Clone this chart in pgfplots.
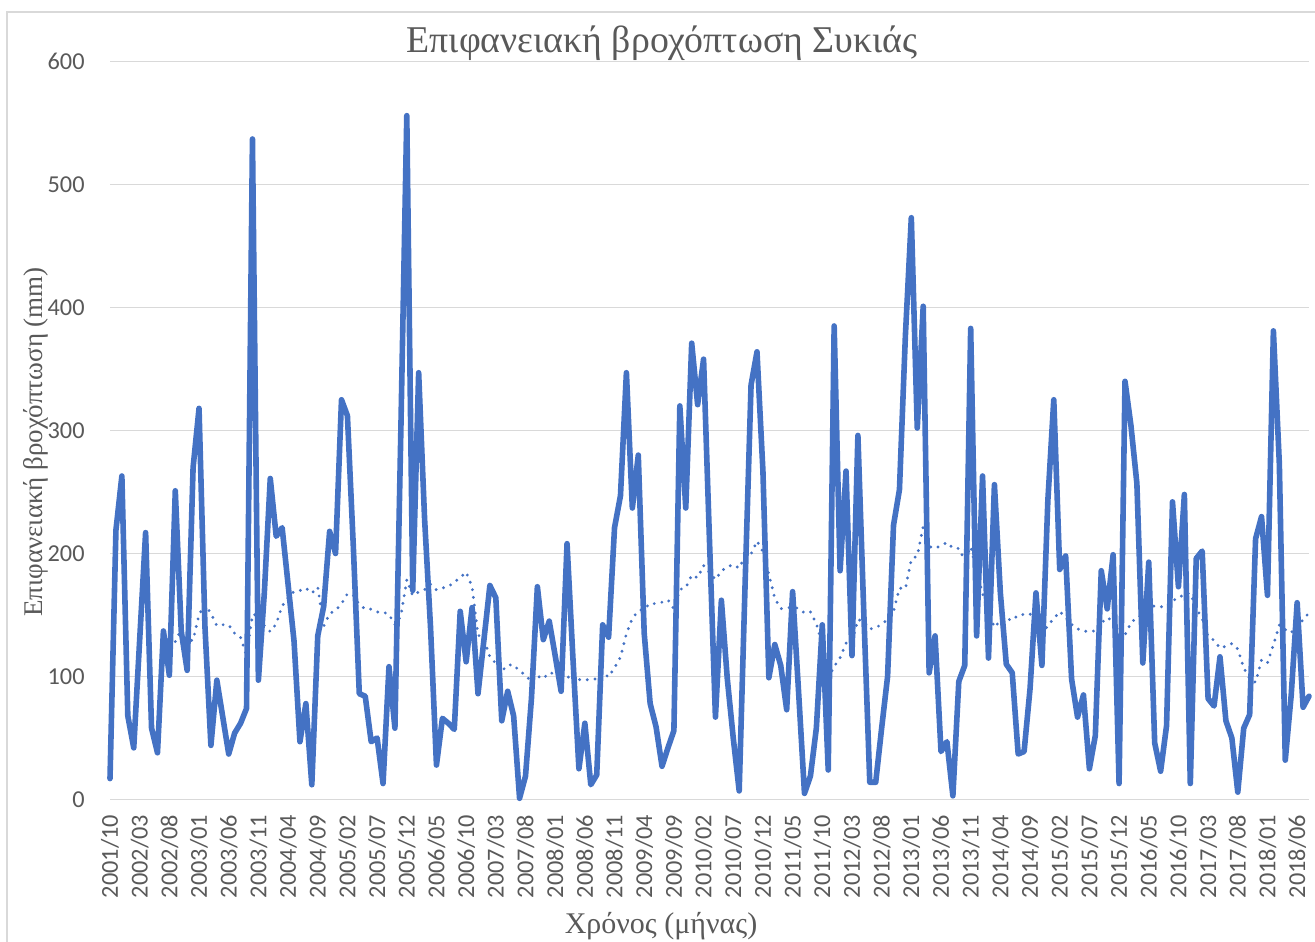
\documentclass[border=0pt]{standalone}
\usepackage{pgfplots}
\usepackage{pgfplotstable}
\pgfplotsset{compat=1.18}
\usepackage{fontspec}
\setmainfont{Liberation Serif}
\newfontfamily\carlito{Carlito}
\definecolor{linec}{HTML}{4472C4}
\definecolor{gridc}{HTML}{D9D9D9}
\definecolor{textc}{HTML}{595959}

\pgfplotstableread{
i v
0 17
1 219
2 263
3 68
4 42
5 130
6 217
7 58
8 38
9 137
10 101
11 251
12 137
13 105
14 270
15 318
16 140
17 44
18 97
19 67
20 37
21 54
22 62
23 74
24 537
25 97
26 168
27 261
28 214
29 221
30 175
31 129
32 47
33 78
34 12
35 133
36 157
37 218
38 200
39 325
40 312
41 205
42 86
43 84
44 47
45 50
46 13
47 108
48 58
49 300
50 556
51 170
52 347
53 228
54 140
55 28
56 66
57 62
58 57
59 153
60 112
61 156
62 86
63 130
64 174
65 164
66 64
67 88
68 68
69 1
70 19
71 82
72 173
73 130
74 145
75 117
76 88
77 208
78 114
79 25
80 62
81 12
82 20
83 142
84 132
85 221
86 247
87 347
88 237
89 280
90 135
91 78
92 59
93 27
94 42
95 56
96 320
97 237
98 371
99 321
100 358
101 210
102 67
103 162
104 98
105 50
106 7
107 176
108 337
109 364
110 267
111 99
112 126
113 109
114 73
115 169
116 88
117 5
118 19
119 58
120 142
121 24
122 385
123 186
124 267
125 117
126 296
127 151
128 14
129 14
130 58
131 100
132 223
133 252
134 377
135 473
136 302
137 401
138 103
139 133
140 39
141 47
142 3
143 96
144 109
145 383
146 133
147 263
148 115
149 256
150 168
151 110
152 103
153 37
154 39
155 90
156 168
157 109
158 243
159 325
160 187
161 198
162 98
163 67
164 85
165 25
166 52
167 186
168 155
169 199
170 13
171 340
172 304
173 257
174 111
175 193
176 46
177 23
178 60
179 242
180 173
181 248
182 13
183 196
184 202
185 82
186 76
187 116
188 64
189 50
190 6
191 58
192 69
193 212
194 230
195 166
196 381
197 273
198 32
199 85
200 160
201 75
202 84
}\rain

\pgfplotstableread{
i m
11 128.4
12 138.4
13 128.9
14 129.5
15 150.3
16 158.5
17 151.3
18 141.3
19 142.1
20 142.0
21 135.1
22 131.8
23 117.1
24 150.4
25 149.8
26 141.3
27 136.5
28 142.7
29 157.4
30 163.9
31 169.1
32 169.9
33 171.9
34 167.8
35 172.7
36 141.0
37 151.1
38 153.8
39 159.1
40 167.3
41 165.9
42 158.5
43 154.8
44 154.8
45 152.4
46 152.5
47 150.4
48 142.2
49 149.0
50 178.7
51 165.8
52 168.7
53 170.6
54 175.1
55 170.4
56 172.0
57 173.0
58 176.7
59 180.4
60 184.9
61 172.9
62 133.8
63 130.4
64 116.0
65 110.7
66 104.3
67 109.3
68 109.5
69 104.4
70 101.3
71 95.3
72 100.4
73 98.3
74 103.2
75 102.1
76 94.9
77 98.6
78 102.8
79 97.5
80 97.0
81 97.9
82 98.0
83 103.0
84 99.6
85 107.2
86 115.7
87 134.8
88 147.3
89 153.3
90 155.0
91 159.4
92 159.2
93 160.4
94 162.3
95 155.1
96 170.8
97 172.1
98 182.4
99 180.3
100 190.3
101 184.5
102 178.8
103 185.8
104 189.1
105 191.0
106 188.1
107 198.1
108 199.5
109 210.1
110 201.4
111 182.9
112 163.6
113 155.2
114 155.7
115 156.3
116 155.4
117 151.7
118 152.7
119 142.8
120 126.6
121 98.3
122 108.1
123 115.3
124 127.1
125 127.8
126 146.3
127 144.8
128 138.7
129 139.4
130 142.7
131 146.2
132 152.9
133 171.9
134 171.3
135 195.2
136 198.1
137 221.8
138 205.7
139 204.2
140 206.3
141 209.0
142 204.4
143 204.1
144 194.6
145 205.5
146 185.2
147 167.7
148 152.1
149 140.0
150 145.4
151 143.5
152 148.8
153 148.0
154 151.0
155 150.5
156 155.4
157 132.6
158 141.8
159 146.9
160 152.9
161 148.1
162 142.3
163 138.7
164 137.2
165 136.2
166 137.3
167 145.3
168 144.2
169 151.7
170 132.5
171 133.8
172 143.5
173 148.4
174 149.5
175 160.0
176 156.8
177 156.6
178 157.3
179 161.9
180 163.4
181 167.5
182 167.5
183 155.5
184 147.0
185 132.4
186 129.5
187 123.1
188 124.6
189 126.8
190 122.3
191 107.0
192 98.3
193 95.3
194 113.4
195 110.9
196 125.8
197 141.8
198 138.1
199 135.5
200 143.5
201 145.6
202 152.1
}\mavg

\begin{document}
\begin{tikzpicture}
\path[use as bounding box] (0pt,0pt) rectangle (657.5pt,-470.5pt);
\draw[gridc, line width=0.75pt] (3.5pt,-6pt) rectangle (700pt,-520pt);
\begin{axis}[
  at={(55pt,-399.75pt)}, anchor=south west,
  scale only axis, width=599.5pt, height=369pt,
  xmin=0, xmax=202, ymin=0, ymax=600,
  axis line style={draw=none},
  major tick length=0pt,
  ytick={0,100,...,600},
  ymajorgrids, grid style={gridc, line width=0.75pt},
  xtick={0,5,...,200},
  xticklabels={2001/10,2002/03,2002/08,2003/01,2003/06,2003/11,2004/04,2004/09,2005/02,2005/07,2005/12,2006/05,2006/10,2007/03,2007/08,2008/01,2008/06,2008/11,2009/04,2009/09,2010/02,2010/07,2010/12,2011/05,2011/10,2012/03,2012/08,2013/01,2013/06,2013/11,2014/04,2014/09,2015/02,2015/07,2015/12,2016/05,2016/10,2017/03,2017/08,2018/01,2018/06},
  tick label style={font=\carlito\fontsize{12.15}{14}\selectfont, text=textc, inner sep=0pt},
  /pgf/number format/assume math mode=true,
  xticklabel style={rotate=90, anchor=east},
  xticklabel shift=7.5pt,
  yticklabel shift=12.5pt,
  clip=false,
]
\addplot[linec, line width=1.6pt, line cap=round, dash pattern=on 0pt off 3.9pt] table[x=i, y=m] {\mavg};
\addplot[linec, line width=2.8pt, line join=round, line cap=round] table[x=i, y=v] {\rain};
\end{axis}
\node[textc, font=\fontsize{18.9}{22}\selectfont, anchor=base] at (331pt,-26.5pt) {Επιφανειακή βροχόπτωση Συκιάς};
\node[textc, font=\fontsize{15}{18}\selectfont, anchor=base] at (330.5pt,-466.5pt) {Χρόνος (μήνας)};
\node[textc, font=\fontsize{13.5}{16}\selectfont, rotate=90, anchor=center] at (18pt,-221pt) {Επιφανειακή βροχόπτωση (mm)};
\end{tikzpicture}
\end{document}
